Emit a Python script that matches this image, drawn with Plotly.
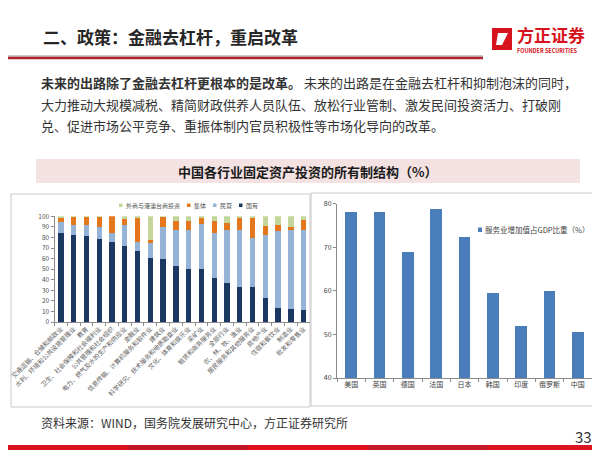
import plotly.graph_objects as go

W, H = 600, 450
def px(x): return x / W
def py(y): return 1 - y / H

FONT = "Noto Sans CJK SC"

industries = ["交通运输、仓储和邮政业", "水利、环境和公共设施管理业", "教育",
              "卫生、社会保障和社会福利业", "公共管理和社会组织", "电力、燃气及水的生产和供应业",
              "金融业", "信息传输、计算机服务和软件业", "建筑业", "科学研究、技术服务和地质勘查业",
              "文化、体育和娱乐业", "采矿业", "租赁和商务服务业", "全部行业", "农、林、牧、渔业",
              "居民服务和其他服务业", "房地产业", "住宿和餐饮业", "制造业", "批发和零售业"]
state_owned = [84, 82, 81, 79, 76, 72, 67, 61, 60, 53, 50.5, 50, 41.5, 37, 33.5, 33.5, 23, 13.5, 12.5, 11]
private = [11, 9.5, 11, 11, 8, 20, 9, 14, 30, 34, 36.5, 43, 42.5, 50.5, 53.5, 46, 59.5, 73, 75, 76]
collective = [4, 8, 7.5, 9.5, 16, 5, 23, 3, 9.5, 9, 9, 5.5, 11.5, 6.5, 11.5, 19.5, 8.5, 5.5, 2.5, 9.5]
foreign = [1, 0.5, 0.5, 0.5, 0, 3, 1, 22, 0.5, 4, 4, 1.5, 4.5, 6, 1.5, 1, 9, 8, 10, 3.5]
series_names = ["国有", "民营", "集体", "外商与港澳台商投资"]

countries = ["美国", "英国", "德国", "法国", "日本", "韩国", "印度", "俄罗斯", "中国"]
service_share = [78.0, 78.2, 68.9, 78.7, 72.4, 59.4, 52.0, 60.0, 50.5]
service_name = "服务业增加值占GDP比重（%）"

C_NAVY, C_LB, C_OR, C_GR = "#1c3762", "#95b3d7", "#e4761c", "#c4d79b"
C_BLUE = "#4a7ebb"

fig = go.Figure()
for vals, name, col in zip([state_owned, private, collective, foreign], series_names,
                           [C_NAVY, C_LB, C_OR, C_GR]):
    fig.add_trace(go.Bar(x=industries, y=vals, name=name, marker_color=col,
                         marker_line_width=0, xaxis="x", yaxis="y", showlegend=False))
fig.add_trace(go.Bar(x=countries, y=service_share, name=service_name, marker_color=C_BLUE,
                     marker_line_width=0, xaxis="x2", yaxis="y2", showlegend=False))

axis_common = dict(showgrid=False, zeroline=False, showline=True, linecolor="#8c8c8c",
                   linewidth=1, ticks="outside", tickcolor="#8c8c8c", automargin=False)

fig.update_layout(
    width=W, height=H, margin=dict(l=0, r=0, t=0, b=0),
    paper_bgcolor="white", plot_bgcolor="white",
    barmode="stack", bargap=0.58, showlegend=False,
    font=dict(family=FONT, color="#404040"),
    xaxis=dict(domain=[px(46.5), px(302)], tickangle=-45, ticklen=3, tickson="boundaries",
               tickfont=dict(size=6.3, color="#606060", family=FONT), **axis_common),
    yaxis=dict(domain=[py(314), py(208.3)], range=[0, 100], dtick=10, ticklen=3,
               tickfont=dict(size=6.5, color="#505050", family=FONT), **axis_common),
    xaxis2=dict(domain=[px(329), px(584)], anchor="y2", ticklen=3, tickson="boundaries", tickangle=0,
                tickfont=dict(size=7, color="#404040", family=FONT), **axis_common),
    yaxis2=dict(domain=[py(370), py(195.7)], anchor="x2", range=[40, 80], dtick=10, ticklen=3,
                tickfont=dict(size=7, color="#404040", family=FONT), **axis_common),
)

shapes = []
# title underline
shapes.append(dict(type="line", xref="paper", yref="paper", x0=0, x1=px(475), y0=py(48), y1=py(48),
                   line=dict(color="#b8b8b8", width=1.5)))
shapes.append(dict(type="line", xref="paper", yref="paper", x0=0, x1=px(475), y0=py(50), y1=py(50),
                   line=dict(color="#b3232b", width=2.5)))
# logo icon
shapes.append(dict(type="path", xref="paper", yref="paper",
                   path=f"M{px(484)},{py(20)} L{px(504)},{py(20)} L{px(504)},{py(42)} L{px(484)},{py(42)} Z",
                   fillcolor="#d7141d", line=dict(width=0)))
shapes.append(dict(type="path", xref="paper", yref="paper",
                   path=f"M{px(490)},{py(25)} L{px(500)},{py(25)} L{px(494)},{py(37)} L{px(488)},{py(37)} Z",
                   fillcolor="white", line=dict(width=0)))
# chart title band
shapes.append(dict(type="rect", xref="paper", yref="paper", x0=px(28), x1=px(572), y0=py(175), y1=py(151),
                   fillcolor="#f4e2e2", line=dict(width=0), layer="below"))
# chart frames
shapes.append(dict(type="rect", xref="paper", yref="paper", x0=px(3), x1=px(302), y0=py(399), y1=py(186),
                   line=dict(color="#c8c8c8", width=1), layer="below"))
shapes.append(dict(type="rect", xref="paper", yref="paper", x0=px(303), x1=px(593), y0=py(398), y1=py(185),
                   line=dict(color="#c8c8c8", width=1), layer="below"))
# bottom band
band_cols = ["#d9131e", "#c21526", "#e0101d", "#c51a2a", "#dc1420"]
for i, c in enumerate(band_cols):
    shapes.append(dict(type="rect", xref="paper", yref="paper", x0=i / 5, x1=(i + 1) / 5,
                       y0=0, y1=py(437), fillcolor=c, line=dict(width=0)))

# legend markers (left chart)
leg_items = [(113, C_GR, "外商与港澳台商投资"), (181, C_OR, "集体"), (207, C_LB, "民营"), (233, C_NAVY, "国有")]
for x, c, _ in leg_items:
    shapes.append(dict(type="rect", xref="paper", yref="paper", x0=px(x - 2), x1=px(x + 1.5),
                       y0=py(199), y1=py(195.5), fillcolor=c, line=dict(width=0)))
# legend marker right chart
shapes.append(dict(type="rect", xref="paper", yref="paper", x0=px(470), x1=px(474),
                   y0=py(224), y1=py(219.5), fillcolor=C_BLUE, line=dict(width=0)))

anns = []
def txt(x, y, s, size, color="#333333", xanchor="left", bold=False):
    anns.append(dict(xref="paper", yref="paper", x=px(x), y=py(y), text=(f"<b>{s}</b>" if bold else s),
                     showarrow=False, xanchor=xanchor, yanchor="middle",
                     font=dict(size=size, color=color, family=FONT)))

txt(33, 29, "二、政策：金融去杠杆，重启改革", 17, "#262626", bold=True)
txt(507, 26, "方正证券", 17, "#d7141d", bold=True)
txt(507, 43, "FOUNDER SECURITIES", 5.5, "#d7141d", bold=True)
txt(31, 75, "<b>未来的出路除了金融去杠杆更根本的是改革。</b> 未来的出路是在金融去杠杆和抑制泡沫的同时，", 13, "#333333")
txt(31, 96, "大力推动大规模减税、精简财政供养人员队伍、放松行业管制、激发民间投资活力、打破刚", 13, "#333333")
txt(31, 117, "兑、促进市场公平竞争、重振体制内官员积极性等市场化导向的改革。", 13, "#333333")
txt(300, 163, "中国各行业固定资产投资的所有制结构（%）", 13, "#1a1a1a", xanchor="center", bold=True)
for x, _, s in leg_items:
    txt(x + 2.5, 197, s, 6, "#505050")
txt(475, 221.5, service_name, 7.5, "#404040")
txt(31, 414, "资料来源：WIND，国务院发展研究中心，方正证券研究所", 12, "#333333")
txt(586, 428, "33", 15, "#333333", xanchor="right")

fig.update_layout(shapes=shapes, annotations=anns)
fig.write_html("out.html")
